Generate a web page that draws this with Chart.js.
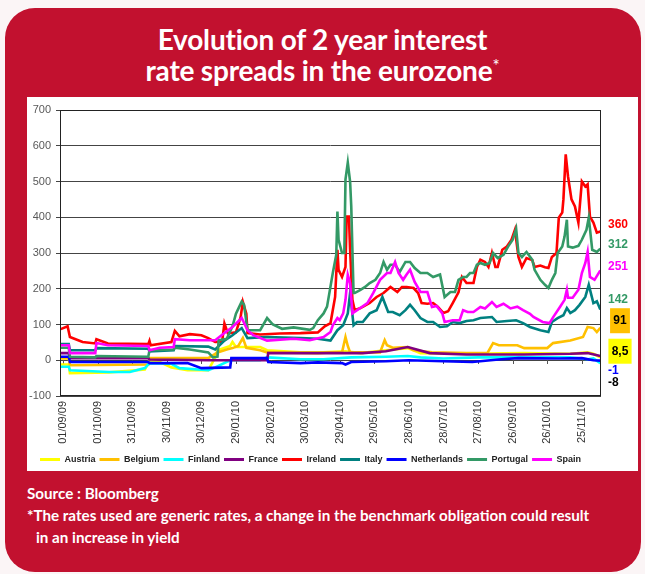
<!DOCTYPE html>
<html>
<head>
<meta charset="utf-8">
<title>Evolution of 2 year interest rate spreads in the eurozone</title>
<script src="https://cdn.jsdelivr.net/npm/chart.js@4.4.1/dist/chart.umd.min.js"></script>
<style>
  html, body { margin: 0; padding: 0; }
  body {
    width: 645px; height: 574px; position: relative; overflow: hidden;
    background: #fbf5f6;
    font-family: Lato, "Liberation Sans", Arial, sans-serif;
  }
  .panel {
    position: absolute; left: 5px; top: 8px; width: 636px; height: 564px;
    background: #c2112f; border-radius: 30px;
  }
  h1 {
    position: absolute; left: 0; top: 24px; width: 645px; margin: 0;
    text-align: center; color: #fff;
    font-size: 28px; line-height: 31px; font-weight: 700; letter-spacing: -0.2px;
  }
  h1 sup { font-size: 17px; font-weight: 400; vertical-align: 9px; line-height: 0; }
  .box { position: absolute; left: 27px; top: 97px; width: 611px; height: 374px; background: #fff; }
  .chart-wrap { position: absolute; left: 27px; top: 97px; width: 611px; height: 377px; }
  .notes {
    position: absolute; left: 27px; top: 482px; margin: 0;
    color: #fff; font-size: 15.2px; font-weight: 700; line-height: 22px;
  }
  .notes .indent { padding-left: 9px; }
</style>
</head>
<body>
<div class="panel"></div>
<h1>Evolution of 2 year interest<br>rate spreads in the eurozone<sup>*</sup></h1>
<div class="box"></div>
<div class="chart-wrap"><canvas id="spreadChart"></canvas></div>
<div class="notes">
  <div>Source : Bloomberg</div>
  <div>*The rates used are generic rates, a change in the benchmark obligation could result</div>
  <div class="indent">in an increase in yield</div>
</div>

<script>
// x values are days counted from 01/09/09, y values are spreads in basis points
const tickDays = [0, 30, 60, 90, 120, 150, 180, 210, 240, 270, 300, 330, 360, 390, 420, 450];
const tickLabels = ["01/09/09", "01/10/09", "31/10/09", "30/11/09", "30/12/09", "29/01/10", "28/02/10",
  "30/03/10", "29/04/10", "29/05/10", "28/06/10", "28/07/10", "27/08/10", "26/09/10", "26/10/10", "25/11/10"];

const seriesNames = ["Austria", "Belgium", "Finland", "France", "Ireland", "Italy", "Netherlands", "Portugal", "Spain"];
const seriesColors = ["#ffff00", "#ffc000", "#00ffff", "#800080", "#ff0000", "#008080", "#0000ff", "#339966", "#ff00ff"];

const austria = [[-2, -12], [5, -12], [6, -36], [40, -34], [71, -26], [75, -2], [84, -5], [94, -20], [108, -28],
  [126, -28], [132, 8], [134, 28], [145, 40], [147, 51], [150, 37], [171, 37], [177, 28], [206, 22], [226, 22],
  [245, 25], [258, 20], [280, 28], [299, 34], [310, 20], [350, 18], [400, 20], [440, 18], [455, 22], [460, 18], [466, 8.5]];

const belgium = [[-2, 5], [5, 5], [6, -14], [74, -12], [75, 6], [126, 6], [134, 22], [142, 30], [147, 34], [152, 40],
  [156, 62], [159, 35], [171, 28], [177, 22], [221, 20], [232, 22], [242, 22], [245, 65], [247, 40], [249, 22],
  [262, 22], [275, 22], [279, 56], [281, 42], [286, 35], [299, 37], [304, 28], [320, 22], [350, 20], [368, 20],
  [373, 48], [378, 42], [394, 42], [400, 34], [420, 34], [425, 48], [440, 55], [451, 65], [455, 93], [460, 90],
  [463, 79], [466, 91]];

const finland = [[-2, -18], [5, -18], [6, -28], [40, -33], [58, -33], [71, -22], [75, -8], [94, -10], [101, -22],
  [126, -28], [132, -20], [145, 0], [171, 0], [177, 8], [206, 3], [226, 3], [250, 8], [280, 10], [299, 12],
  [310, 8], [330, 5], [360, 8], [400, 8], [440, 8], [455, 3], [460, 5], [466, -8]];

const france = [[-2, 20], [5, 20], [6, 6], [74, 6], [75, 2], [126, 0], [177, 0], [178, 20], [226, 20], [260, 20],
  [280, 25], [299, 37], [318, 20], [350, 16], [400, 16], [440, 18], [455, 20], [466, 12]];

const ireland = [[-2, 87], [4, 95], [6, 65], [17, 51], [28, 47], [29, 59], [39, 47], [74, 45], [75, 54], [76, 42],
  [94, 51], [97, 82], [101, 67], [110, 73], [120, 70], [126, 62], [132, 51], [138, 52], [140, 103], [143, 75],
  [150, 78], [154, 120], [156, 163], [159, 130], [160, 76], [171, 72], [188, 75], [206, 76], [221, 78], [227, 95],
  [232, 104], [236, 177], [238, 309], [239, 253], [242, 233], [245, 261], [246, 402], [248, 402], [249, 309],
  [251, 169], [253, 140], [258, 146], [266, 160], [272, 177], [278, 188], [284, 205], [290, 191], [294, 205],
  [298, 205], [304, 202], [308, 188], [311, 160], [316, 158], [321, 160], [325, 150], [330, 132], [334, 137],
  [338, 160], [343, 190], [346, 233], [350, 216], [356, 216], [359, 261], [362, 281], [366, 275], [369, 261],
  [372, 300], [375, 261], [377, 261], [381, 309], [385, 318], [389, 337], [392, 365], [395, 289], [398, 261],
  [402, 286], [407, 280], [409, 261], [414, 265], [418, 260], [421, 258], [424, 289], [428, 300], [430, 399],
  [433, 413], [434, 450], [436, 576], [438, 514], [441, 450], [444, 430], [447, 385], [450, 500], [453, 486],
  [455, 492], [457, 402], [460, 385], [463, 357], [466, 360]];

const italy = [[-2, 45], [5, 45], [6, 28], [28, 28], [29, 34], [74, 32], [75, 25], [96, 28], [97, 40], [126, 38],
  [132, 30], [140, 55], [147, 70], [155, 90], [160, 62], [177, 65], [206, 62], [221, 60], [232, 55], [238, 84],
  [243, 98], [247, 131], [249, 188], [252, 98], [255, 107], [260, 107], [266, 131], [272, 140], [277, 177],
  [279, 160], [282, 135], [286, 135], [292, 126], [297, 140], [301, 155], [305, 140], [310, 118], [316, 107],
  [321, 107], [327, 93], [333, 95], [338, 107], [344, 104], [350, 110], [356, 112], [362, 118], [372, 121],
  [376, 107], [385, 110], [393, 112], [399, 104], [405, 93], [414, 84], [421, 79], [424, 107], [429, 118],
  [434, 126], [437, 146], [440, 132], [444, 140], [448, 155], [453, 177], [456, 211], [460, 160], [463, 165], [466, 142]];

const netherlands = [[-2, 10], [5, 10], [6, -5], [74, -5], [75, -8], [108, -8], [120, -22], [145, -20], [146, 6],
  [177, 6], [178, -5], [206, -8], [221, -6], [242, -8], [245, -12], [250, -5], [280, -3], [300, 0], [330, -3],
  [355, -5], [380, 3], [395, 6], [430, 5], [450, 6], [460, 0], [466, -1]];

const portugal = [[-2, 35], [5, 35], [6, 10], [28, 8], [29, 12], [74, 10], [75, 28], [96, 30], [97, 35], [110, 30],
  [126, 22], [130, 8], [134, 10], [135, 56], [142, 60], [147, 95], [150, 130], [155, 164], [157, 155], [160, 84],
  [171, 84], [177, 118], [182, 100], [190, 88], [200, 92], [214, 85], [217, 90], [221, 112], [226, 131], [229, 150],
  [234, 244], [237, 295], [238, 416], [239, 337], [242, 300], [244, 300], [245, 506], [247, 553], [249, 500],
  [250, 430], [252, 188], [253, 188], [258, 197], [262, 205], [266, 216], [271, 225], [275, 244], [278, 275],
  [281, 253], [284, 267], [288, 267], [292, 247], [297, 275], [301, 275], [305, 258], [310, 244], [316, 244],
  [321, 233], [327, 240], [331, 177], [336, 191], [340, 191], [343, 225], [347, 233], [350, 233], [353, 244],
  [356, 244], [359, 267], [362, 272], [366, 267], [370, 272], [373, 300], [377, 286], [382, 295], [386, 318],
  [390, 337], [393, 368], [395, 300], [398, 289], [402, 303], [407, 281], [409, 253], [414, 225], [418, 211],
  [421, 202], [424, 225], [427, 244], [429, 300], [433, 318], [435, 346], [437, 393], [438, 318], [442, 315],
  [447, 320], [450, 337], [454, 365], [456, 399], [459, 309], [463, 303], [466, 312]];

const spain = [[-2, 42], [5, 42], [6, 20], [28, 20], [29, 48], [39, 42], [74, 40], [75, 28], [84, 35], [96, 37],
  [97, 59], [110, 56], [132, 56], [140, 76], [147, 93], [155, 118], [160, 84], [165, 70], [177, 55], [200, 60],
  [214, 56], [226, 65], [232, 79], [234, 98], [238, 118], [240, 112], [243, 131], [245, 169], [247, 239],
  [249, 216], [251, 131], [255, 140], [264, 160], [269, 188], [275, 225], [281, 244], [284, 244], [288, 275],
  [291, 244], [295, 225], [298, 240], [301, 253], [305, 219], [310, 191], [316, 191], [320, 149], [324, 152],
  [329, 131], [331, 107], [338, 112], [344, 112], [347, 140], [351, 135], [356, 135], [362, 149], [366, 145],
  [372, 163], [376, 149], [382, 158], [388, 145], [394, 150], [399, 140], [405, 130], [408, 121], [416, 107],
  [422, 104], [425, 120], [431, 149], [435, 169], [437, 197], [438, 175], [442, 175], [447, 197], [450, 244],
  [453, 272], [455, 303], [457, 233], [461, 225], [466, 251]];

const seriesData = [austria, belgium, finland, france, ireland, italy, netherlands, portugal, spain];

// last values written to the right of the plot (nudge keeps them from overlapping)
const endLabels = [
  { series: "Ireland", color: "#ff0000", nudge: -7 },
  { series: "Portugal", color: "#339966", nudge: -4 },
  { series: "Spain", color: "#ff00ff", nudge: -4 },
  { series: "Italy", color: "#339966", nudge: -10 },
  { series: "Belgium", color: "#000000", box: "#ffc000", nudge: -7 },
  { series: "Austria", color: "#000000", box: "#ffff00", nudge: -6 },
  { series: "Netherlands", color: "#0000ff", nudge: 10 },
  { series: "Finland", color: "#000000", nudge: 20 },
];

const frameAndLabels = {
  id: "frameAndLabels",
  afterLayout(chart) {
    // legend row starts a little in from the canvas edge
    chart.legend.left += 9;
    chart.legend.right += 9;
  },
  beforeDatasetsDraw(chart) {
    const { ctx, scales } = chart;
    const y0 = Math.round(scales.y.getPixelForValue(0));
    ctx.save();
    ctx.strokeStyle = "#555";
    ctx.lineWidth = 1;
    ctx.beginPath();
    for (const d of tickDays) {
      const x = Math.round(scales.x.getPixelForValue(d)) + 0.5;
      ctx.moveTo(x, y0);
      ctx.lineTo(x, y0 + 4);
    }
    ctx.stroke();
    ctx.restore();
  },
  afterDraw(chart) {
    const { ctx, chartArea, scales } = chart;
    ctx.save();
    ctx.strokeStyle = "#222";
    ctx.lineWidth = 1;
    ctx.strokeRect(chartArea.left + 0.5, chartArea.top + 0.5, chartArea.width - 1, chartArea.height - 1);

    ctx.font = "bold 12px Arial";
    ctx.textBaseline = "middle";
    for (const lab of endLabels) {
      const data = seriesData[seriesNames.indexOf(lab.series)];
      const value = data[data.length - 1][1];
      const text = String(value).replace(".", ",");
      const y = scales.y.getPixelForValue(value) + lab.nudge;
      if (lab.box) {
        const w = ctx.measureText(text).width + 6.5;
        const cx = chartArea.right + 19;
        ctx.fillStyle = lab.box;
        ctx.fillRect(cx - w / 2, y - 12.5, w, 25);
        ctx.fillStyle = lab.color;
        ctx.textAlign = "center";
        ctx.fillText(text, cx, y);
      } else {
        ctx.fillStyle = lab.color;
        ctx.textAlign = "left";
        ctx.fillText(text, chartArea.right + 7, y);
      }
    }
    ctx.restore();
  }
};

const datasets = seriesNames.map((name, i) => ({
  label: name,
  data: seriesData[i].map(([x, y]) => ({ x, y })),
  borderColor: seriesColors[i],
  backgroundColor: seriesColors[i],
  borderWidth: 2.6,
  pointRadius: 0,
  tension: 0,
  fill: false,
  order: seriesNames.length - i, // later series drawn on top
}));

new Chart(document.getElementById("spreadChart"), {
  type: "line",
  data: { datasets },
  plugins: [frameAndLabels],
  options: {
    responsive: true,
    maintainAspectRatio: false,
    animation: false,
    layout: { padding: { top: 13, left: 0, right: 0, bottom: 0 } },
    scales: {
      x: {
        type: "linear",
        min: -2.6,
        max: 466.6,
        afterBuildTicks: (axis) => { axis.ticks = tickDays.map((v) => ({ value: v })); },
        afterFit: (scale) => { scale.height = 55; },
        grid: { display: false, drawTicks: false },
        border: { display: false },
        ticks: {
          autoSkip: false,
          minRotation: 90,
          maxRotation: 90,
          padding: 5,
          color: "#333",
          font: { family: "Arial", size: 11 },
          callback: (v) => tickLabels[tickDays.indexOf(v)] ?? "",
        },
      },
      y: {
        min: -100,
        max: 700,
        afterFit: (scale) => { scale.width = 33; },
        grid: { color: "#444", lineWidth: 1, tickLength: 4 },
        border: { display: false },
        ticks: {
          stepSize: 100,
          padding: 5,
          color: "#595959",
          font: { family: "Arial", size: 11 },
        },
      },
      edge: {
        position: "right",
        display: true,
        afterFit: (scale) => { scale.width = 37; },
        grid: { display: false, drawTicks: false },
        border: { display: false },
        ticks: { display: false },
      },
    },
    plugins: {
      tooltip: { enabled: false },
      legend: {
        position: "bottom",
        align: "start",
        labels: {
          boxWidth: 20,
          boxHeight: 3,
          padding: 4,
          color: "#222",
          font: { family: "Arial", size: 9, weight: "bold" },
          sort: (a, b) => a.datasetIndex - b.datasetIndex,
          generateLabels: (chart) =>
            Chart.defaults.plugins.legend.labels.generateLabels(chart).map((l) => ({ ...l, lineWidth: 0 })),
        },
      },
    },
  },
});
</script>
</body>
</html>
